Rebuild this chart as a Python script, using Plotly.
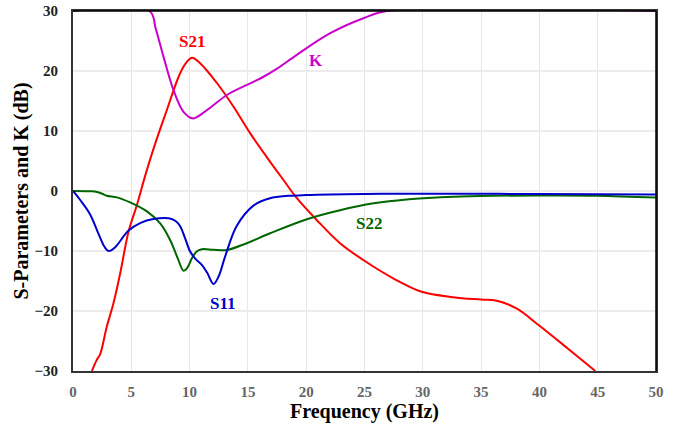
import plotly.graph_objects as go

s11_f = [0, 0.62, 1.47, 2.2, 2.7, 3.05, 3.6, 4.76, 5.8, 6.9, 8.2, 8.8, 9.2, 9.6, 10.05, 10.5, 11.05, 11.5, 12.05, 12.5, 13.05, 14.05, 15.5, 16.9, 18.5, 20, 25, 30, 40, 50]
s11_v = [0, -1.5, -3.9, -7.2, -9.3, -10, -9.4, -6.6, -5.3, -4.67, -4.55, -5.0, -5.9, -7.8, -10.1, -11.3, -12.3, -13.6, -15.5, -14.2, -10.9, -5.8, -2.4, -1.2, -0.8, -0.67, -0.5, -0.45, -0.5, -0.6]

s22_f = [0, 1.5, 2.05, 2.5, 2.9, 3.76, 4.9, 6.34, 7.48, 8.34, 9.0, 9.48, 9.8, 10.2, 10.6, 11.05, 12.05, 13.2, 14.9, 16.9, 20.06, 22.9, 25.8, 28.6, 31.5, 34.9, 40, 44.9, 50]
s22_v = [0, -0.05, -0.15, -0.45, -0.8, -1.06, -1.9, -3.4, -5.4, -8.2, -11.3, -13.3, -12.8, -11.2, -10.1, -9.7, -9.8, -9.83, -8.7, -7.05, -4.7, -3.2, -2.06, -1.4, -1.06, -0.83, -0.75, -0.78, -1.1]

s21_f = [1.62, 2.05, 2.33, 2.9, 3.47, 4.05, 4.76, 5.5, 6.2, 7.0, 8.05, 9.05, 9.6, 10.2, 10.9, 12.34, 13.77, 15.2, 16.6, 18.05, 19.2, 20.9, 22.9, 24.9, 27.5, 29.9, 32.6, 35, 36.35, 38.07, 39.9, 42.4, 44.8]
s21_v = [-30, -28.1, -27.2, -22.6, -18.7, -13.7, -6.8, -2.2, 2.6, 7.6, 13.5, 19.0, 21.1, 22.2, 21.3, 18, 14.05, 9.6, 5.7, 1.83, -1.2, -4.83, -8.7, -11.5, -14.6, -16.8, -17.7, -18.1, -18.3, -19.6, -22.3, -26.2, -30]

k_f = [0, 6.56, 7.1, 7.76, 8.62, 9.48, 10.3, 11.5, 13.2, 15.2, 16.3, 17.5, 19.2, 22.06, 24.9, 26.9, 50]
k_v = [30, 30, 27.0, 22.4, 16.8, 13.2, 12.1, 13.5, 16, 17.95, 19.0, 20.4, 22.7, 26.3, 28.8, 30, 30]

labels = ["S21", "K", "S22", "S11"]
label_f = [10.2, 20.8, 25.4, 12.85]
label_v = [24.9, 21.7, -5.4, -18.7]
label_colors = ["#ff0000", "#cc00cc", "#006600", "#0000cc"]

x_range = [0, 50]
y_range = [-30, 30]

FONT = "Liberation Serif"

fig = go.Figure()
series = [
    (s21_f, s21_v, "#ff0000"),
    (s22_f, s22_v, "#006600"),
    (s11_f, s11_v, "#0000cc"),
    (k_f, k_v, "#cc00cc"),
]
for f, v, c in series:
    fig.add_trace(go.Scatter(x=f, y=v, mode="lines",
                             line=dict(color=c, width=2, shape="spline", smoothing=1.0),
                             showlegend=False, hoverinfo="skip"))

for t, f, v, c in zip(labels, label_f, label_v, label_colors):
    fig.add_annotation(x=f, y=v, text="<b>%s</b>" % t, showarrow=False,
                       font=dict(family=FONT, size=17, color=c))

# top and right frame lines
fig.add_shape(type="line", xref="paper", yref="paper", x0=0, x1=1, y0=1, y1=1,
              line=dict(color="black", width=1.5), layer="above")
fig.add_shape(type="line", xref="paper", yref="paper", x0=1, x1=1, y0=0, y1=1,
              line=dict(color="black", width=1.5), layer="above")

fig.update_layout(
    width=680, height=427,
    margin=dict(l=73, r=24, t=11, b=56),
    paper_bgcolor="white", plot_bgcolor="white",
    font=dict(family=FONT),
    xaxis=dict(range=x_range, dtick=5, tick0=0, automargin=False,
               showgrid=True, gridcolor="#e6e6e6", gridwidth=1, zeroline=False,
               showline=True, linecolor="#333333", linewidth=2, mirror=True,
               ticks="outside", ticklen=6, tickcolor="rgba(0,0,0,0)",
               tickfont=dict(family=FONT, size=15, color="#666666", weight="bold"),
               title=dict(text="<b>Frequency (GHz)</b>", standoff=4,
                          font=dict(family=FONT, size=20, color="black"))),
    yaxis=dict(range=y_range, dtick=10, tick0=0, automargin=False,
               showgrid=True, gridcolor="#ececec", gridwidth=1.5, zeroline=False,
               showline=True, linecolor="#333333", linewidth=2, mirror=True,
               ticks="outside", ticklen=10, tickcolor="rgba(0,0,0,0)",
               tickfont=dict(family=FONT, size=15, color="#222222", weight="bold"),
               title=dict(text="<b>S-Parameters and K (dB)</b>", standoff=0,
                          font=dict(family=FONT, size=20, color="black"))),
)

fig.write_html("out.html", config={"displayModeBar": False},
               post_script="document.body.style.margin='0px';")
